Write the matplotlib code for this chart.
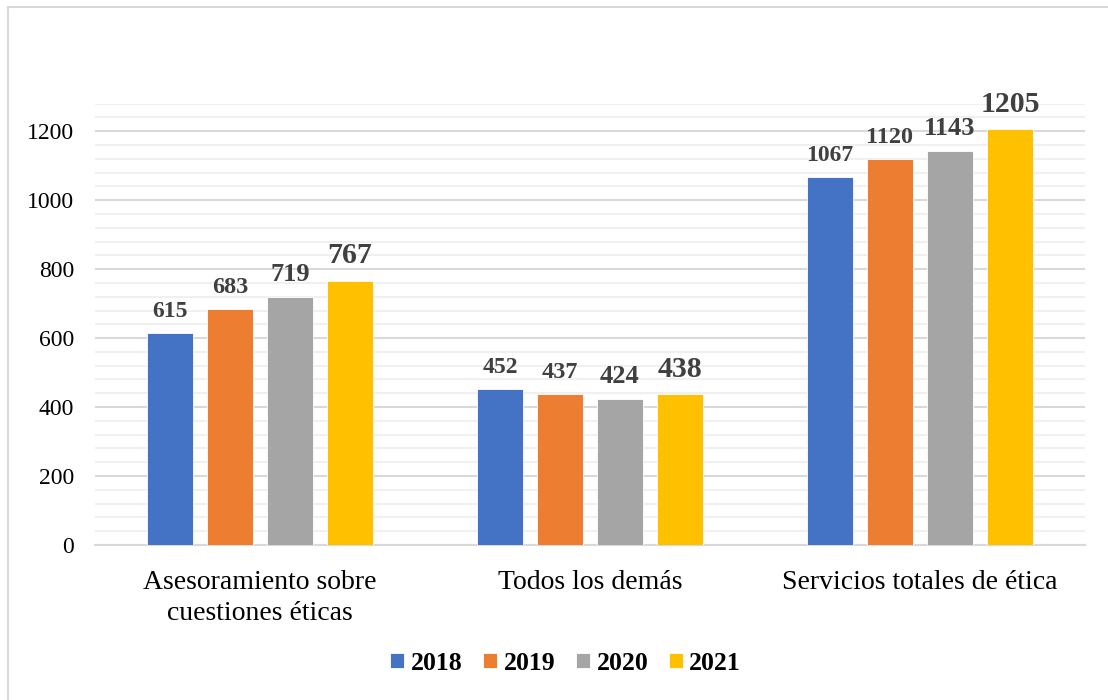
import numpy as np
import matplotlib.pyplot as plt
from matplotlib.patches import Rectangle

# Datos
categorias = ['Asesoramiento sobre\ncuestiones éticas', 'Todos los demás', 'Servicios totales de ética']
anios = ['2018', '2019', '2020', '2021']
v2018 = [615, 452, 1067]
v2019 = [683, 437, 1120]
v2020 = [719, 424, 1143]
v2021 = [767, 438, 1205]

series = [v2018, v2019, v2020, v2021]
colores = ['#4472C4', '#ED7D31', '#A5A5A5', '#FFC000']
tam_etiqueta = [17, 17.5, 19, 21.5]

plt.rcParams['font.family'] = ['Liberation Serif', 'DejaVu Serif']

fig = plt.figure(figsize=(11.08, 7), dpi=100)
ax = fig.add_axes([95 / 1108, 0.2214, 990 / 1108, 0.852 - 0.2214])

# marco gris alrededor de la figura
fig.patches.append(Rectangle((8 / 1108, -0.1), 1.2, 1.1 - 7 / 700,
                             transform=fig.transFigure, fill=False,
                             edgecolor='#d9d9d9', linewidth=1.5))

x = np.arange(len(categorias))
paso = 60 / 330
ancho = 46 / 330

for i, (vals, col) in enumerate(zip(series, colores)):
    pos = x + (i - 1.5) * paso
    ax.bar(pos, vals, width=ancho, color=col, edgecolor='white', linewidth=0.6,
           label=anios[i], zorder=3)
    for p, v in zip(pos, vals):
        ax.annotate(str(v), (p, v), xytext=(0, 8), textcoords='offset points',
                    ha='center', va='bottom', fontsize=tam_etiqueta[i],
                    fontweight='bold', color='#404040')

ax.set_xlim(-0.5, 2.5)
ax.set_ylim(0, 1280)
ax.set_yticks(np.arange(0, 1201, 200))
ax.set_yticks(np.arange(0, 1281, 40), minor=True)
ax.grid(axis='y', which='major', color='#d9d9d9', linewidth=1.5, zorder=0)
ax.grid(axis='y', which='minor', color='#f0f0f0', linewidth=1.5, zorder=0)
ax.tick_params(axis='both', which='both', length=0)
ax.tick_params(axis='y', labelsize=17, pad=15)
ax.tick_params(axis='x', labelsize=20, pad=18)
ax.set_xticks(x)
ax.set_xticklabels(categorias, linespacing=1.3)
for s in ['top', 'right', 'left']:
    ax.spines[s].set_visible(False)
ax.spines['bottom'].set_color('#d9d9d9')
ax.spines['bottom'].set_linewidth(1.5)

fig.legend(loc='center', bbox_to_anchor=(0.5105, 1 - 663 / 700), ncol=4,
           frameon=False, prop={'weight': 'bold', 'size': 18.5},
           handlelength=0.55, handleheight=0.55, handletextpad=0.25,
           columnspacing=0.8)

plt.savefig('out.png', dpi=100)
